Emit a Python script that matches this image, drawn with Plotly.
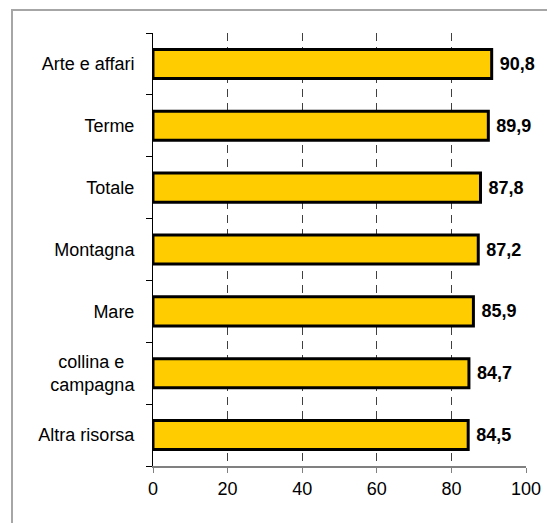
import plotly.graph_objects as go

categories = ["Altra risorsa", "collina e\u00a0\u00a0<br>campagna", "Mare", "Montagna", "Totale", "Terme", "Arte e affari"]
values = [84.5, 84.7, 85.9, 87.2, 87.8, 89.9, 90.8]
x_ticks = [0, 20, 40, 60, 80, 100]

fig = go.Figure()

fig.add_trace(go.Bar(
    x=values,
    y=categories,
    orientation="h",
    width=0.47,
    marker=dict(color="#FFCC00", line=dict(color="black", width=3)),
    texttemplate="\u00a0%{x:.1f}",
    textposition="outside",
    textfont=dict(family="Liberation Sans, Arial", size=18, color="black", weight="bold"),
    cliponaxis=False,
    hoverinfo="skip",
))

# grey frame around the chart area (runs off the right and bottom edges)
fig.add_shape(type="rect", xref="paper", yref="paper",
              x0=-0.378, x1=1.2, y0=-0.3, y1=1.053,
              line=dict(color="#a6a6a6", width=2), layer="below")

# page body adds an 8px margin, so the figure is 8px smaller on each side
fig.update_layout(
    width=547,
    height=515,
    margin=dict(l=145, r=29, t=25, b=57),
    paper_bgcolor="white",
    plot_bgcolor="white",
    separators=",.",
    showlegend=False,
    font=dict(family="Liberation Sans, Arial", size=18, color="black"),
    xaxis=dict(
        range=[0, 100],
        tickvals=x_ticks,
        showgrid=True,
        gridcolor="#404040",
        gridwidth=1,
        griddash="8px,6px",
        zeroline=False,
        showline=True,
        linecolor="#808080",
        linewidth=2,
        ticks="outside",
        ticklen=5,
        tickcolor="#808080",
        tickwidth=1,
    ),
    yaxis=dict(
        showline=True,
        linecolor="black",
        linewidth=1,
        ticks="outside",
        tickson="boundaries",
        ticklen=6,
        tickcolor="black",
        ticklabelstandoff=14,
        showgrid=False,
    ),
)

fig.write_html("out.html")
